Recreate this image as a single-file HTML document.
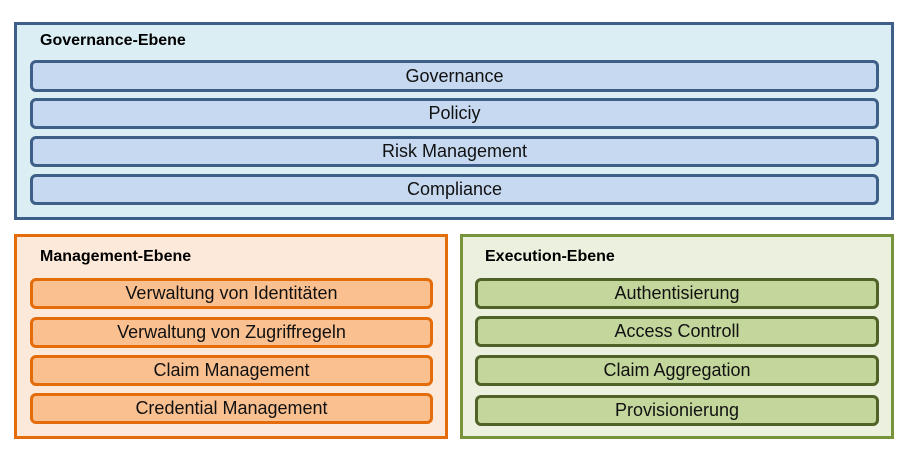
<!DOCTYPE html>
<html><head><meta charset="utf-8"><style>
body{margin:0;width:904px;height:465px;background:#fff;position:relative;font-family:"Liberation Sans",sans-serif;overflow:hidden}
.box{position:absolute;box-sizing:border-box;border:3px solid}
.t{position:absolute;font-weight:bold;font-size:16px;color:#000}
.bar{position:absolute;box-sizing:border-box;border:3px solid;border-radius:6px;text-align:center;font-size:18px;color:#111;display:flex;align-items:center;justify-content:center}
.g{background:#c6d9f0;border-color:#3e5f87}
.m{background:#fac090;border-color:#e46c0a}
.e{background:#c3d69b;border-color:#4f6228}
</style></head><body>
<div class="box" style="left:14px;top:22px;width:880px;height:198px;background:#dbeef3;border-color:#3d5f8a"></div>
<div class="t" style="left:40px;top:32px">Governance-Ebene</div>
<div class="bar g" style="left:30px;top:60px;width:849px;height:32px">Governance</div>
<div class="bar g" style="left:30px;top:98px;width:849px;height:31px">Policiy</div>
<div class="bar g" style="left:30px;top:136px;width:849px;height:31px">Risk Management</div>
<div class="bar g" style="left:30px;top:174px;width:849px;height:31px">Compliance</div>

<div class="box" style="left:14px;top:234px;width:434px;height:205px;background:#fde9d9;border-color:#e46c0a"></div>
<div class="t" style="left:40px;top:248px">Management-Ebene</div>
<div class="bar m" style="left:30px;top:278px;width:403px;height:31px">Verwaltung von Identitäten</div>
<div class="bar m" style="left:30px;top:317px;width:403px;height:31px">Verwaltung von Zugriffregeln</div>
<div class="bar m" style="left:30px;top:355px;width:403px;height:31px">Claim Management</div>
<div class="bar m" style="left:30px;top:393px;width:403px;height:31px">Credential Management</div>

<div class="box" style="left:460px;top:234px;width:434px;height:205px;background:#ebf1de;border-color:#77933c"></div>
<div class="t" style="left:485px;top:248px">Execution-Ebene</div>
<div class="bar e" style="left:475px;top:278px;width:404px;height:31px">Authentisierung</div>
<div class="bar e" style="left:475px;top:316px;width:404px;height:31px">Access Controll</div>
<div class="bar e" style="left:475px;top:355px;width:404px;height:31px">Claim Aggregation</div>
<div class="bar e" style="left:475px;top:395px;width:404px;height:31px">Provisionierung</div>
</body></html>
